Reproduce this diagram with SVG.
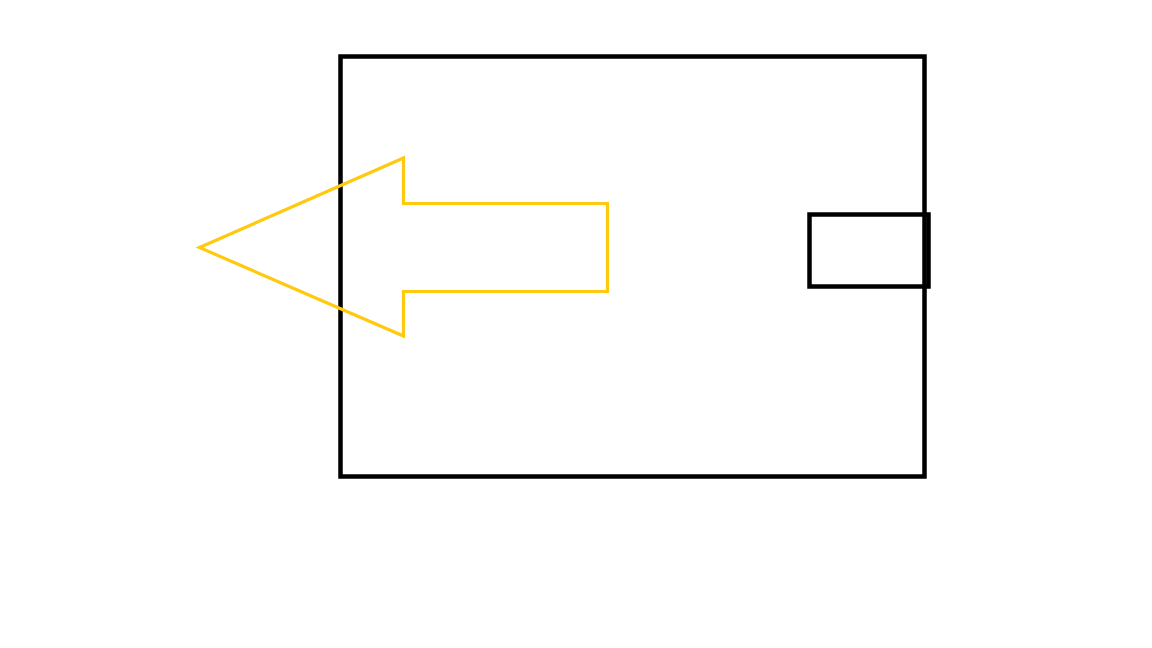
<svg xmlns="http://www.w3.org/2000/svg" width="1152" height="648" viewBox="0 0 1152 648">
<style>
.box{fill:none;stroke:#000;stroke-width:4.5}
.arrow{fill:none;stroke:#FFC90E;stroke-width:3.2;stroke-linejoin:miter}
</style>
<rect width="1152" height="648" fill="#fff"/>
<g id="main-box"><rect class="box" x="340.5" y="56.5" width="584" height="420"/></g>
<g id="port"><rect class="box" x="809.5" y="214.5" width="119" height="72"/></g>
<g id="connectors"><polygon class="arrow" points="199.5,247.5 403.5,158 403.5,203.5 607.5,203.5 607.5,291.5 403.5,291.5 403.5,336"/></g>
</svg>
